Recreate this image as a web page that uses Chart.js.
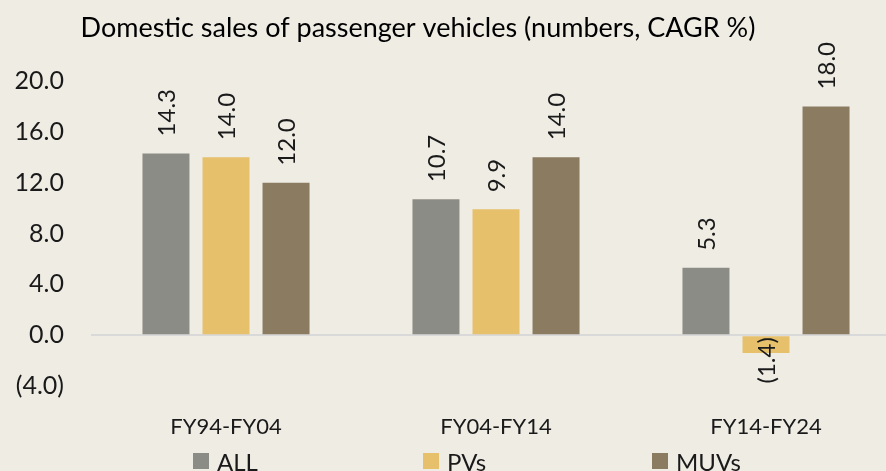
<!DOCTYPE html>
<html>
<head>
<meta charset="utf-8">
<script src="https://cdn.jsdelivr.net/npm/chart.js@4/dist/chart.umd.min.js"></script>
<style>
  html, body { margin: 0; padding: 0; background: #efece4; overflow: hidden; }
  #wrap { position: relative; width: 886px; height: 471px; overflow: hidden; }
  #box { position: absolute; left: 0; top: 0; width: 904px; height: 471px; }
  .leg { position: absolute; top: 448px; height: 26px; display: flex; align-items: center;
         font-family: Lato, sans-serif; font-size: 24px; color: #1a1a1a; white-space: nowrap; }
  .sw { width: 16px; height: 16px; margin-right: 8px; }
</style>
</head>
<body>
<div id="wrap">
  <div id="box"><canvas id="c"></canvas></div>
  <div class="leg" style="left:193px"><span class="sw" style="background:#8c8c86"></span>ALL</div>
  <div class="leg" style="left:423px"><span class="sw" style="background:#e6c06a"></span>PVs</div>
  <div class="leg" style="left:652px"><span class="sw" style="background:#8a7b61"></span>MUVs</div>
</div>
<script>
const categories = ['FY94-FY04', 'FY04-FY14', 'FY14-FY24'];
const seriesNames = ['ALL', 'PVs', 'MUVs'];
const allValues = [14.3, 10.7, 5.3];
const pvValues = [14.0, 9.9, -1.4];
const muvValues = [12.0, 14.0, 18.0];
const yMin = -4, yMax = 20, yStep = 4;
const titleText = 'Domestic sales of passenger vehicles (numbers, CAGR %)';

const FONT = 'Lato, sans-serif';
const fmt = v => v < 0 ? '(' + Math.abs(v).toFixed(1) + ')' : v.toFixed(1);

const titlePlugin = {
  id: 'customTitle',
  afterDraw(chart) {
    const ctx = chart.ctx;
    ctx.save();
    ctx.font = '27px ' + FONT;
    ctx.fillStyle = '#000000';
    ctx.textAlign = 'center';
    ctx.textBaseline = 'middle';
    ctx.fillText(titleText, 418, 28);
    ctx.restore();
  }
};

const labelPlugin = {
  id: 'barLabels',
  afterDatasetsDraw(chart) {
    const ctx = chart.ctx;
    ctx.save();
    ctx.font = '24px ' + FONT;
    ctx.fillStyle = '#1a1a1a';
    ctx.textBaseline = 'middle';
    chart.data.datasets.forEach((ds, di) => {
      const meta = chart.getDatasetMeta(di);
      meta.data.forEach((el, i) => {
        const v = ds.data[i];
        ctx.save();
        if (v >= 0) {
          ctx.translate(el.x, el.y - 17);
          ctx.rotate(-Math.PI / 2);
          ctx.textAlign = 'left';
        } else {
          ctx.translate(el.x, el.base + 1);
          ctx.rotate(-Math.PI / 2);
          ctx.textAlign = 'right';
        }
        ctx.fillText(fmt(v), 0, 1);
        ctx.restore();
      });
    });
    ctx.restore();
  }
};

new Chart(document.getElementById('c'), {
  type: 'bar',
  data: {
    labels: categories,
    datasets: [
      { label: seriesNames[0], data: allValues, backgroundColor: '#8c8c86' },
      { label: seriesNames[1], data: pvValues, backgroundColor: '#e6c06a' },
      { label: seriesNames[2], data: muvValues, backgroundColor: '#8a7b61' }
    ]
  },
  options: {
    responsive: true,
    maintainAspectRatio: false,
    animation: false,
    devicePixelRatio: 1,
    categoryPercentage: 0.667,
    barPercentage: 0.783,
    layout: { padding: { top: 81, right: 3, left: 0, bottom: 0 } },
    plugins: { legend: { display: false }, title: { display: false }, tooltip: { enabled: false } },
    scales: {
      x: {
        grid: { display: false },
        border: { display: false },
        ticks: { color: '#1a1a1a', font: { family: FONT, size: 22 }, padding: 20, maxRotation: 0 },
        afterFit(s) { s.height = 85; }
      },
      y: {
        min: yMin, max: yMax,
        border: { display: false },
        grid: {
          drawTicks: false,
          color: c => c.tick && c.tick.value === 0 ? '#d9d9d9' : 'rgba(0,0,0,0)',
          lineWidth: 2
        },
        ticks: {
          stepSize: yStep,
          padding: 27,
          color: '#1a1a1a',
          font: { family: FONT, size: 25 },
          callback: v => fmt(v)
        },
        afterFit(s) { s.width = 91; }
      }
    }
  },
  plugins: [titlePlugin, labelPlugin]
});
</script>
</body>
</html>
